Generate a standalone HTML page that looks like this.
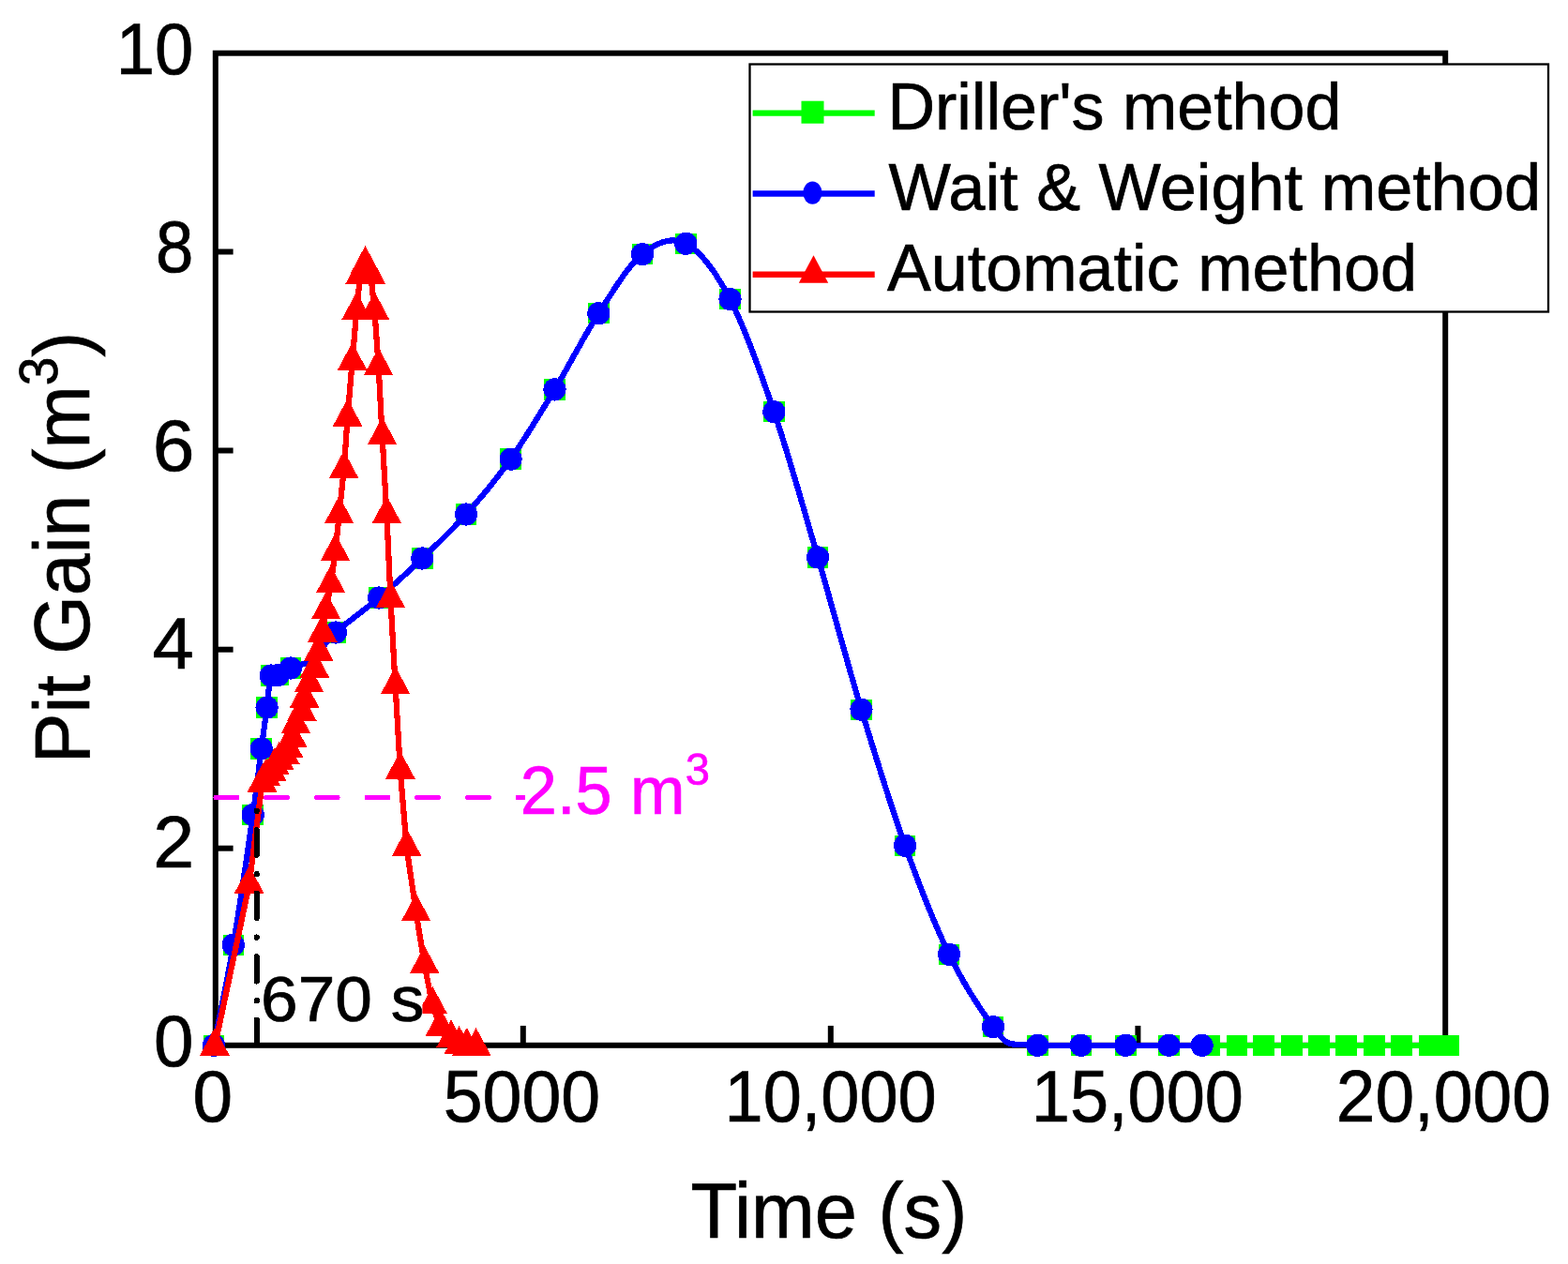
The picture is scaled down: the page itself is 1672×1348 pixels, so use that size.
<!DOCTYPE html><html><head><meta charset="utf-8"><title>Pit Gain vs Time</title>
<style>html,body{margin:0;padding:0;background:#fff;width:1672px;height:1348px;overflow:hidden}svg{display:block}text{font-family:"Liberation Sans",Arial,sans-serif;fill:#000;stroke:#000;stroke-width:0.7px}</style></head><body>
<svg width="1672" height="1348" viewBox="0 0 1672 1348">
<rect width="1672" height="1348" fill="#fff"/>
<rect x="229.8" y="56.7" width="1311.4" height="1058.1" fill="none" stroke="#000" stroke-width="6.0"/>
<line x1="229.8" y1="268.5" x2="248.6" y2="268.5" stroke="#000" stroke-width="6.0"/>
<line x1="229.8" y1="480.5" x2="248.6" y2="480.5" stroke="#000" stroke-width="6.0"/>
<line x1="229.8" y1="692.7" x2="248.6" y2="692.7" stroke="#000" stroke-width="6.0"/>
<line x1="229.8" y1="904.7" x2="248.6" y2="904.7" stroke="#000" stroke-width="6.0"/>
<line x1="557.8" y1="1114.8" x2="557.8" y2="1093.9" stroke="#000" stroke-width="6.0"/>
<line x1="885.8" y1="1114.8" x2="885.8" y2="1093.9" stroke="#000" stroke-width="6.0"/>
<line x1="1213.4" y1="1114.8" x2="1213.4" y2="1093.9" stroke="#000" stroke-width="6.0"/>
<text transform="translate(123.75,78.50) scale(0.9449,1)" font-size="78.50">10</text>
<text transform="translate(166.03,290.12) scale(0.9243,1)" font-size="78.50">8</text>
<text transform="translate(162.71,501.74) scale(1.0222,1)" font-size="78.50">6</text>
<text transform="translate(162.57,713.36) scale(1.0128,1)" font-size="78.50">4</text>
<text transform="translate(163.18,924.98) scale(1.0056,1)" font-size="78.50">2</text>
<text transform="translate(163.90,1136.60) scale(0.9730,1)" font-size="78.50">0</text>
<text transform="translate(205.48,1195.50) scale(0.9757,1)" font-size="78.50">0</text>
<text transform="translate(472.73,1195.50) scale(0.9595,1)" font-size="78.50">5000</text>
<text transform="translate(772.51,1195.50) scale(0.9422,1)" font-size="78.50">10,000</text>
<text transform="translate(1099.77,1195.50) scale(0.9420,1)" font-size="78.50">15,000</text>
<text transform="translate(1424.77,1195.50) scale(0.9541,1)" font-size="78.50">20,000</text>
<text transform="translate(736.48,1320.40) scale(0.9670,1)" font-size="84.00">Time (s)</text>
<text transform="translate(95.00,814.17) rotate(-90) scale(0.9649,1)" font-size="83.50">Pit Gain (m<tspan font-size="57" dy="-34.3">3</tspan><tspan dy="34.3">)</tspan></text>
<g shape-rendering="crispEdges">
<line x1="230.2" y1="850.5" x2="557.5" y2="850.5" stroke="#ff00ff" stroke-width="5.4" stroke-linecap="round" stroke-dasharray="22.3 31.4"/>
<rect x="216.8" y="1103.5" width="22.5" height="22.5" fill="#00ff00"/>
<rect x="237.6" y="996.5" width="22.5" height="22.5" fill="#00ff00"/>
<rect x="258.4" y="857.8" width="22.5" height="22.5" fill="#00ff00"/>
<rect x="267.4" y="787.2" width="22.5" height="22.5" fill="#00ff00"/>
<rect x="273.4" y="743.2" width="22.5" height="22.5" fill="#00ff00"/>
<rect x="277.6" y="709.2" width="22.5" height="22.5" fill="#00ff00"/>
<rect x="285.4" y="708.8" width="22.5" height="22.5" fill="#00ff00"/>
<rect x="298.8" y="701.2" width="22.5" height="22.5" fill="#00ff00"/>
<rect x="346.8" y="663.2" width="22.5" height="22.5" fill="#00ff00"/>
<rect x="392.9" y="626.2" width="22.5" height="22.5" fill="#00ff00"/>
<rect x="439.1" y="584.2" width="22.5" height="22.5" fill="#00ff00"/>
<rect x="485.9" y="537.2" width="22.5" height="22.5" fill="#00ff00"/>
<rect x="533.4" y="478.4" width="22.5" height="22.5" fill="#00ff00"/>
<rect x="580.2" y="404.1" width="22.5" height="22.5" fill="#00ff00"/>
<rect x="627.1" y="322.9" width="22.5" height="22.5" fill="#00ff00"/>
<rect x="673.8" y="259.9" width="22.5" height="22.5" fill="#00ff00"/>
<rect x="720.0" y="248.6" width="22.5" height="22.5" fill="#00ff00"/>
<rect x="767.2" y="307.9" width="22.5" height="22.5" fill="#00ff00"/>
<rect x="814.1" y="427.9" width="22.5" height="22.5" fill="#00ff00"/>
<rect x="860.9" y="583.1" width="22.5" height="22.5" fill="#00ff00"/>
<rect x="907.2" y="745.5" width="22.5" height="22.5" fill="#00ff00"/>
<rect x="953.9" y="890.5" width="22.5" height="22.5" fill="#00ff00"/>
<rect x="1000.8" y="1006.5" width="22.5" height="22.5" fill="#00ff00"/>
<rect x="1047.8" y="1083.8" width="22.5" height="22.5" fill="#00ff00"/>
<rect x="1095.0" y="1103.5" width="22.5" height="22.5" fill="#00ff00"/>
<rect x="1141.5" y="1103.5" width="22.5" height="22.5" fill="#00ff00"/>
<rect x="1189.0" y="1103.5" width="22.5" height="22.5" fill="#00ff00"/>
<rect x="1235.2" y="1103.5" width="22.5" height="22.5" fill="#00ff00"/>
<rect x="1278.2" y="1103.5" width="22.5" height="22.5" fill="#00ff00"/>
<rect x="1307.7" y="1103.5" width="22.5" height="22.5" fill="#00ff00"/>
<rect x="1336.3" y="1103.5" width="22.5" height="22.5" fill="#00ff00"/>
<rect x="1366.0" y="1103.5" width="22.5" height="22.5" fill="#00ff00"/>
<rect x="1395.0" y="1103.5" width="22.5" height="22.5" fill="#00ff00"/>
<rect x="1424.0" y="1103.5" width="22.5" height="22.5" fill="#00ff00"/>
<rect x="1454.0" y="1103.5" width="22.5" height="22.5" fill="#00ff00"/>
<rect x="1483.0" y="1103.5" width="22.5" height="22.5" fill="#00ff00"/>
<rect x="1513.0" y="1103.5" width="22.5" height="22.5" fill="#00ff00"/>
<rect x="1533.0" y="1103.5" width="22.5" height="22.5" fill="#00ff00"/>
<path d="M1281.6,1114.8 L1544.3,1114.8" stroke="#00ff00" stroke-width="6.2" fill="none"/>
<path d="M228.0,1114.8 C231.5,1097.0 241.9,1048.8 248.8,1007.8 C255.8,966.8 264.7,903.9 269.7,869.0 C274.7,834.1 276.2,817.6 278.7,798.5 C281.2,779.4 282.9,767.5 284.6,754.5 C286.3,741.5 286.9,726.2 288.9,720.5 C290.9,714.8 293.1,721.3 296.6,720.0 C300.1,718.7 303.9,715.3 310.0,712.5 C316.1,709.7 325.0,709.3 333.0,703.0 C341.0,696.7 346.1,685.4 358.0,674.5 C369.9,663.6 388.7,650.7 404.1,637.5 C419.5,624.3 434.8,610.3 450.3,595.5 C465.8,580.7 481.4,566.1 497.1,548.5 C512.8,530.9 528.9,511.8 544.6,489.6 C560.3,467.4 575.9,441.3 591.5,415.4 C607.1,389.5 622.8,358.2 638.4,334.2 C654.0,310.1 669.5,283.5 685.0,271.1 C700.5,258.7 715.7,251.8 731.3,259.8 C746.9,267.8 762.8,289.2 778.5,319.1 C794.2,349.0 809.8,393.3 825.4,439.2 C841.0,485.1 856.6,541.5 872.1,594.4 C887.6,647.3 903.0,705.5 918.5,756.7 C934.0,807.9 949.5,858.3 965.1,901.8 C980.7,945.3 996.4,985.5 1012.0,1017.7 C1027.7,1049.9 1047.3,1079.1 1059.0,1095.1 C1070.7,1111.1 1074.1,1113.6 1082.0,1113.6 C1089.9,1113.6 1094.5,1114.8 1106.3,1114.8 C1118.1,1114.8 1137.1,1114.8 1152.8,1114.8 C1168.5,1114.8 1184.6,1114.8 1200.2,1114.8 C1215.8,1114.8 1232.9,1114.8 1246.5,1114.8 C1260.1,1114.8 1275.8,1114.8 1281.6,1114.8" stroke="#0000ff" stroke-width="6.2" fill="none" stroke-linejoin="round"/>
<circle cx="228.0" cy="1114.8" r="12.1" fill="#0000ff"/>
<circle cx="248.8" cy="1007.8" r="12.1" fill="#0000ff"/>
<circle cx="269.7" cy="869.0" r="12.1" fill="#0000ff"/>
<circle cx="278.7" cy="798.5" r="12.1" fill="#0000ff"/>
<circle cx="284.6" cy="754.5" r="12.1" fill="#0000ff"/>
<circle cx="288.9" cy="720.5" r="12.1" fill="#0000ff"/>
<circle cx="296.6" cy="720.0" r="12.1" fill="#0000ff"/>
<circle cx="310.0" cy="712.5" r="12.1" fill="#0000ff"/>
<circle cx="358.0" cy="674.5" r="12.1" fill="#0000ff"/>
<circle cx="404.1" cy="637.5" r="12.1" fill="#0000ff"/>
<circle cx="450.3" cy="595.5" r="12.1" fill="#0000ff"/>
<circle cx="497.1" cy="548.5" r="12.1" fill="#0000ff"/>
<circle cx="544.6" cy="489.6" r="12.1" fill="#0000ff"/>
<circle cx="591.5" cy="415.4" r="12.1" fill="#0000ff"/>
<circle cx="638.4" cy="334.2" r="12.1" fill="#0000ff"/>
<circle cx="685.0" cy="271.1" r="12.1" fill="#0000ff"/>
<circle cx="731.3" cy="259.8" r="12.1" fill="#0000ff"/>
<circle cx="778.5" cy="319.1" r="12.1" fill="#0000ff"/>
<circle cx="825.4" cy="439.2" r="12.1" fill="#0000ff"/>
<circle cx="872.1" cy="594.4" r="12.1" fill="#0000ff"/>
<circle cx="918.5" cy="756.7" r="12.1" fill="#0000ff"/>
<circle cx="965.1" cy="901.8" r="12.1" fill="#0000ff"/>
<circle cx="1012.0" cy="1017.7" r="12.1" fill="#0000ff"/>
<circle cx="1059.0" cy="1095.1" r="12.1" fill="#0000ff"/>
<circle cx="1106.3" cy="1114.8" r="12.1" fill="#0000ff"/>
<circle cx="1152.8" cy="1114.8" r="12.1" fill="#0000ff"/>
<circle cx="1200.2" cy="1114.8" r="12.1" fill="#0000ff"/>
<circle cx="1246.5" cy="1114.8" r="12.1" fill="#0000ff"/>
<circle cx="1281.6" cy="1114.8" r="12.1" fill="#0000ff"/>
<path d="M228.9,1116.5 L265.7,943.5 L279.5,835.5 L283.6,829.2 L289.5,823.5 L293.0,817.2 L297.6,811.5 L303.9,805.6 L307.8,799.3 L311.7,787.7 L315.5,773.2 L321.8,759.6 L324.7,745.6 L329.6,729.3 L335.5,713.6 L339.8,695.7 L343.8,675.6 L347.7,651.4 L352.6,623.3 L357.5,589.0 L361.6,549.2 L366.7,501.0 L370.6,445.5 L375.6,385.6 L380.2,331.7 L384.0,294.0 L389.5,282.5 L395.4,294.0 L399.5,331.7 L403.7,391.2 L407.6,465.2 L412.4,549.2 L416.5,639.4 L421.6,731.2 L426.8,821.5 L433.6,903.8 L443.7,973.3 L452.7,1029.0 L461.1,1072.0 L469.5,1095.5 L481.0,1108.0 L489.6,1114.5 L497.8,1116.5 L507.6,1116.5" stroke="#ff0000" stroke-width="6.2" fill="none" stroke-linejoin="round"/>
<path d="M228.9,1096.0L244.7,1125.5L213.2,1125.5Z" fill="#ff0000"/>
<path d="M265.7,923.0L281.4,952.5L249.9,952.5Z" fill="#ff0000"/>
<path d="M279.5,815.0L295.2,844.5L263.8,844.5Z" fill="#ff0000"/>
<path d="M283.6,808.7L299.4,838.2L267.9,838.2Z" fill="#ff0000"/>
<path d="M289.5,803.0L305.2,832.5L273.8,832.5Z" fill="#ff0000"/>
<path d="M293.0,796.7L308.8,826.2L277.2,826.2Z" fill="#ff0000"/>
<path d="M297.6,791.0L313.4,820.5L281.9,820.5Z" fill="#ff0000"/>
<path d="M303.9,785.1L319.6,814.6L288.1,814.6Z" fill="#ff0000"/>
<path d="M307.8,778.8L323.6,808.3L292.1,808.3Z" fill="#ff0000"/>
<path d="M311.7,767.2L327.4,796.7L295.9,796.7Z" fill="#ff0000"/>
<path d="M315.5,752.7L331.2,782.2L299.8,782.2Z" fill="#ff0000"/>
<path d="M321.8,739.1L337.6,768.6L306.1,768.6Z" fill="#ff0000"/>
<path d="M324.7,725.1L340.4,754.6L308.9,754.6Z" fill="#ff0000"/>
<path d="M329.6,708.8L345.4,738.3L313.9,738.3Z" fill="#ff0000"/>
<path d="M335.5,693.1L351.2,722.6L319.8,722.6Z" fill="#ff0000"/>
<path d="M339.8,675.2L355.6,704.7L324.1,704.7Z" fill="#ff0000"/>
<path d="M343.8,655.1L359.6,684.6L328.1,684.6Z" fill="#ff0000"/>
<path d="M347.7,630.9L363.4,660.4L331.9,660.4Z" fill="#ff0000"/>
<path d="M352.6,602.8L368.4,632.3L336.9,632.3Z" fill="#ff0000"/>
<path d="M357.5,568.5L373.2,598.0L341.8,598.0Z" fill="#ff0000"/>
<path d="M361.6,528.7L377.4,558.2L345.9,558.2Z" fill="#ff0000"/>
<path d="M366.7,480.5L382.4,510.0L350.9,510.0Z" fill="#ff0000"/>
<path d="M370.6,425.0L386.4,454.5L354.9,454.5Z" fill="#ff0000"/>
<path d="M375.6,365.1L391.4,394.6L359.9,394.6Z" fill="#ff0000"/>
<path d="M380.2,311.2L395.9,340.7L364.4,340.7Z" fill="#ff0000"/>
<path d="M384.0,273.5L399.8,303.0L368.2,303.0Z" fill="#ff0000"/>
<path d="M389.5,262.0L405.2,291.5L373.8,291.5Z" fill="#ff0000"/>
<path d="M395.4,273.5L411.1,303.0L379.6,303.0Z" fill="#ff0000"/>
<path d="M399.5,311.2L415.2,340.7L383.8,340.7Z" fill="#ff0000"/>
<path d="M403.7,370.7L419.4,400.2L387.9,400.2Z" fill="#ff0000"/>
<path d="M407.6,444.7L423.4,474.2L391.9,474.2Z" fill="#ff0000"/>
<path d="M412.4,528.7L428.1,558.2L396.6,558.2Z" fill="#ff0000"/>
<path d="M416.5,618.9L432.2,648.4L400.8,648.4Z" fill="#ff0000"/>
<path d="M421.6,710.7L437.4,740.2L405.9,740.2Z" fill="#ff0000"/>
<path d="M426.8,801.0L442.6,830.5L411.1,830.5Z" fill="#ff0000"/>
<path d="M433.6,883.3L449.4,912.8L417.9,912.8Z" fill="#ff0000"/>
<path d="M443.7,952.8L459.4,982.3L427.9,982.3Z" fill="#ff0000"/>
<path d="M452.7,1008.5L468.4,1038.0L436.9,1038.0Z" fill="#ff0000"/>
<path d="M461.1,1051.5L476.9,1081.0L445.4,1081.0Z" fill="#ff0000"/>
<path d="M469.5,1075.0L485.2,1104.5L453.8,1104.5Z" fill="#ff0000"/>
<path d="M481.0,1087.5L496.8,1117.0L465.2,1117.0Z" fill="#ff0000"/>
<path d="M489.6,1094.0L505.4,1123.5L473.9,1123.5Z" fill="#ff0000"/>
<path d="M497.8,1096.0L513.5,1125.5L482.1,1125.5Z" fill="#ff0000"/>
<path d="M507.6,1096.0L523.4,1125.5L491.9,1125.5Z" fill="#ff0000"/>
<line x1="273.7" y1="1114" x2="273.7" y2="853" stroke="#000" stroke-width="6" stroke-linecap="round" stroke-dasharray="26.5 20.2 0.5 20.2"/>
</g>
<rect x="278" y="1040" width="172.4" height="55" fill="#fff"/>
<text transform="translate(278.07,1088.50) scale(1.0395,1)" font-size="68.50">670 s</text>
<text transform="translate(554.87,867.80) scale(0.9815,1)" font-size="71.60" style="fill:#ff00ff;stroke:#ff00ff">2.5 m<tspan font-size="48" dy="-31">3</tspan></text>
<rect x="799.5" y="68.5" width="851.5" height="264" fill="#fff" stroke="#000" stroke-width="2.3"/>
<line x1="802.6" y1="120.6" x2="932.7" y2="120.6" stroke="#00ff00" stroke-width="6.4"/>
<line x1="802.6" y1="206.5" x2="932.7" y2="206.5" stroke="#0000ff" stroke-width="6.4"/>
<line x1="802.6" y1="292.7" x2="932.7" y2="292.7" stroke="#ff0000" stroke-width="6.4"/>
<rect x="854.5" y="107.7" width="24" height="24" fill="#00ff00"/>
<ellipse cx="866.4" cy="205.6" rx="10.1" ry="12.1" fill="#0000ff"/>
<path d="M867.5,272.2L883.2,301.7L851.8,301.7Z" fill="#ff0000"/>
<text transform="translate(946.50,137.60) scale(0.9830,1)" font-size="71.20">Driller's method</text>
<text transform="translate(947.60,223.70) scale(0.9876,1)" font-size="71.20">Wait &amp; Weight method</text>
<text transform="translate(946.00,309.70) scale(0.9847,1)" font-size="71.20">Automatic method</text>
</svg></body></html>
